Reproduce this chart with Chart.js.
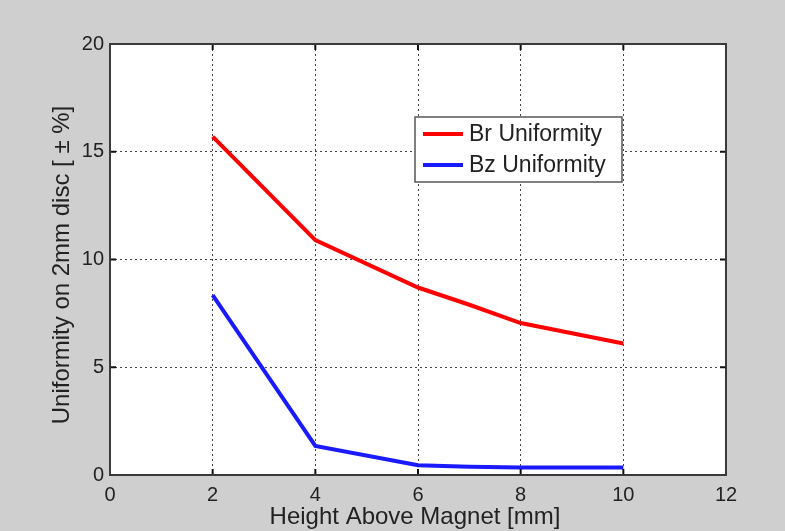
<!DOCTYPE html>
<html>
<head>
<meta charset="utf-8">
<script src="https://cdn.jsdelivr.net/npm/chart.js@4"></script>
<style>
  html, body { margin: 0; padding: 0; background: #cfcfcf; }
  #wrap { width: 785px; height: 531px; }
</style>
</head>
<body>
<div id="wrap"><canvas id="myChart" width="785" height="531"></canvas></div>
<script>
// Heights above magnet [mm]
const heights = [2, 4, 6, 7, 8, 10];
// Uniformity values [± %]
const brValues = [15.7, 10.9, 8.7, 7.9, 7.05, 6.1];
const bzValues = [8.35, 1.35, 0.45, 0.38, 0.35, 0.35];
const xTicks = [0, 2, 4, 6, 8, 10, 12];
const yTicks = [0, 5, 10, 15, 20];

const font = "'Liberation Sans', Arial, sans-serif";
const ctx = document.getElementById("myChart");

function toPoints(values) {
    return heights.map((h, i) => ({ x: h, y: values[i] }));
}

// gray figure background, white axes, box, inward ticks, titles, legend
const matlabLook = {
    id: "matlabLook",
    beforeDraw(chart) {
        const c = chart.ctx;
        const a = chart.chartArea;
        c.save();
        c.fillStyle = "#cfcfcf";
        c.fillRect(0, 0, chart.width, chart.height);
        c.fillStyle = "#ffffff";
        c.fillRect(a.left, a.top, a.right - a.left, a.bottom - a.top);
        c.restore();
    },
    afterDraw(chart) {
        const c = chart.ctx;
        const a = chart.chartArea;
        const xs = chart.scales.x;
        const ys = chart.scales.y;
        c.save();
        // inward ticks
        c.strokeStyle = "#111";
        c.lineWidth = 2;
        c.beginPath();
        xTicks.forEach(v => {
            const px = xs.getPixelForValue(v);
            c.moveTo(px, a.bottom); c.lineTo(px, a.bottom - 6);
            c.moveTo(px, a.top); c.lineTo(px, a.top + 6);
        });
        yTicks.forEach(v => {
            const py = ys.getPixelForValue(v);
            c.moveTo(a.left, py); c.lineTo(a.left + 6, py);
            c.moveTo(a.right, py); c.lineTo(a.right - 6, py);
        });
        c.stroke();
        // box
        c.strokeStyle = "#3a3a3a";
        c.lineWidth = 2;
        c.strokeRect(a.left, a.top, a.right - a.left, a.bottom - a.top);

        // axis titles
        c.fillStyle = "#222";
        c.font = "24px " + font;
        c.textAlign = "center";
        c.textBaseline = "middle";
        c.fillText("Height Above Magnet [mm]", 415, 517);
        c.translate(62, 265);
        c.rotate(-Math.PI / 2);
        c.fillText("Uniformity on 2mm disc [ \u00b1 %]", 0, 0);
        c.restore();

        // legend
        c.save();
        const lx = 415, ly = 117, lw = 207, lh = 65;
        c.fillStyle = "#ffffff";
        c.fillRect(lx, ly, lw, lh);
        c.strokeStyle = "#555";
        c.lineWidth = 1.5;
        c.strokeRect(lx, ly, lw, lh);
        c.font = "23px " + font;
        c.textAlign = "left";
        c.textBaseline = "middle";
        chart.data.datasets.forEach((ds, i) => {
            const y = ly + 17 + i * 31;
            c.strokeStyle = ds.borderColor;
            c.lineWidth = 4;
            c.beginPath();
            c.moveTo(lx + 8, y); c.lineTo(lx + 48, y);
            c.stroke();
            c.fillStyle = "#222";
            c.fillText(ds.label, lx + 54, y + 1);
        });
        c.restore();
    }
};

new Chart(ctx, {
    type: "line",
    data: {
        datasets: [
            {
                label: "Br Uniformity",
                data: toPoints(brValues),
                borderColor: "#ff0000",
                borderWidth: 4,
                pointRadius: 0,
                tension: 0,
            },
            {
                label: "Bz Uniformity",
                data: toPoints(bzValues),
                borderColor: "#1a1aff",
                borderWidth: 4,
                pointRadius: 0,
                tension: 0,
            },
        ],
    },
    options: {
        responsive: false,
        animation: false,
        layout: { padding: { left: 0, right: 59, top: 44, bottom: 0 } },
        plugins: {
            legend: { display: false },
            tooltip: { enabled: false },
        },
        scales: {
            x: {
                type: "linear",
                min: 0,
                max: 12,
                afterBuildTicks(scale) { scale.ticks = xTicks.map(v => ({ value: v })); },
                afterFit(scale) { scale.height = 56; },
                grid: { color: "#444", lineWidth: 1, drawTicks: false },
                border: { display: false, dash: [2, 3] },
                ticks: { color: "#222", font: { family: font, size: 20 }, padding: 8 },
            },
            y: {
                type: "linear",
                min: 0,
                max: 20,
                afterBuildTicks(scale) { scale.ticks = yTicks.map(v => ({ value: v })); },
                afterFit(scale) { scale.width = 110; },
                grid: { color: "#444", lineWidth: 1, drawTicks: false },
                border: { display: false, dash: [2, 3] },
                ticks: { color: "#222", font: { family: font, size: 20 }, padding: 6 },
            },
        },
    },
    plugins: [matlabLook],
});
</script>
</body>
</html>
